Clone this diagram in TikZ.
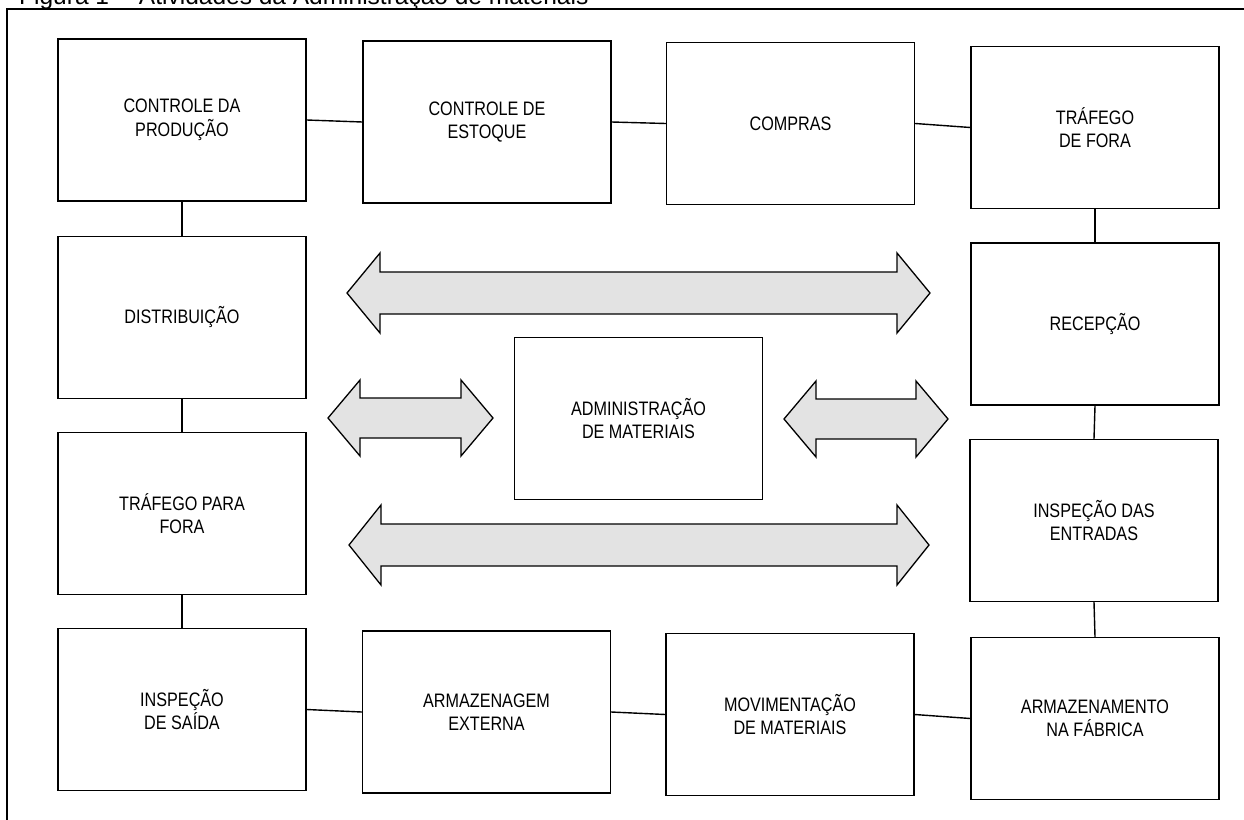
\documentclass[tikz,border=0pt]{standalone}
\usepackage{fontspec}
\setmainfont{Liberation Sans}[FakeStretch=0.83]
\newfontfamily\titlefont{Liberation Sans}
\newcommand\DArrow[6]{% x1, x2, yc, head half, shaft half, head length
  \draw[bigarrow] (#1,#3) -- ({#1+#6},{#3-#4}) -- ({#1+#6},{#3-#5}) -- ({#2-#6},{#3-#5})
    -- ({#2-#6},{#3-#4}) -- (#2,#3) -- ({#2-#6},{#3+#4}) -- ({#2-#6},{#3+#5})
    -- ({#1+#6},{#3+#5}) -- ({#1+#6},{#3+#4}) -- cycle;}
\begin{document}
\begin{tikzpicture}[x=1pt,y=-1pt,
  box/.style={draw=black, line width=1.4pt, fill=white, minimum width=248pt, minimum height=162pt,
    inner sep=0pt, align=center, font=\fontsize{19.5}{23.5}\selectfont},
  link/.style={draw=black, line width=1.4pt},
  bigarrow/.style={draw=black, line width=1.3pt, fill=gray!22, line join=miter}]
\useasboundingbox (0,0) rectangle (1244,819);
\clip (0,0) rectangle (1244,819);
\fill[white] (0,0) rectangle (1244,819);
% title (cut at the top edge)
\node[anchor=base west, inner sep=0pt, font=\titlefont\fontsize{24.5}{28}\selectfont] (title) at (19,4.5)
  {Figura 1 -- Atividades da Administração de materiais};
% frame
\draw[line width=1.2pt] (1260,9) -- (7,9) -- (7,840);
% boxes
\node[box] (cp) at (182,120) {CONTROLE DA\\PRODUÇÃO};
\node[box] (ce) at (487,122) {CONTROLE DE\\ESTOQUE};
\node[box] (co) at (790.5,123.5) {COMPRAS};
\node[box] (tf) at (1095,127.5) {TRÁFEGO\\DE FORA};
\node[box] (di) at (182,317.5) {DISTRIBUIÇÃO};
\node[box] (re) at (1095,324) {RECEPÇÃO};
\node[box] (ad) at (638.5,418.5) {ADMINISTRAÇÃO\\DE MATERIAIS};
\node[box] (tp) at (182,513.5) {TRÁFEGO PARA\\FORA};
\node[box] (ie) at (1094,520.5) {INSPEÇÃO DAS\\ENTRADAS};
\node[box] (is) at (182,709.5) {INSPEÇÃO\\DE SAÍDA};
\node[box] (ae) at (486.5,712) {ARMAZENAGEM\\EXTERNA};
\node[box] (mo) at (790,714.5) {MOVIMENTAÇÃO\\DE MATERIAIS};
\node[box] (af) at (1095,718.5) {ARMAZENAMENTO\\NA FÁBRICA};
% connectors
\draw[link] (cp.east) -- (ce.west);
\draw[link] (ce.east) -- (co.west);
\draw[link] (co.east) -- (tf.west);
\draw[link] (cp.south) -- (di.north);
\draw[link] (di.south) -- (tp.north);
\draw[link] (tp.south) -- (is.north);
\draw[link] (is.east) -- (ae.west);
\draw[link] (ae.east) -- (mo.west);
\draw[link] (mo.east) -- (af.west);
\draw[link] (tf.south) -- (re.north);
\draw[link] (re.south) -- (ie.north);
\draw[link] (ie.south) -- (af.north);
% double arrows
\DArrow{347}{930}{293}{40}{21}{33}
\DArrow{349}{929}{545}{40}{21}{32}
\DArrow{328}{493}{418}{38}{20}{32}
\DArrow{784}{948}{419}{38}{20}{32}
\end{tikzpicture}
\end{document}
